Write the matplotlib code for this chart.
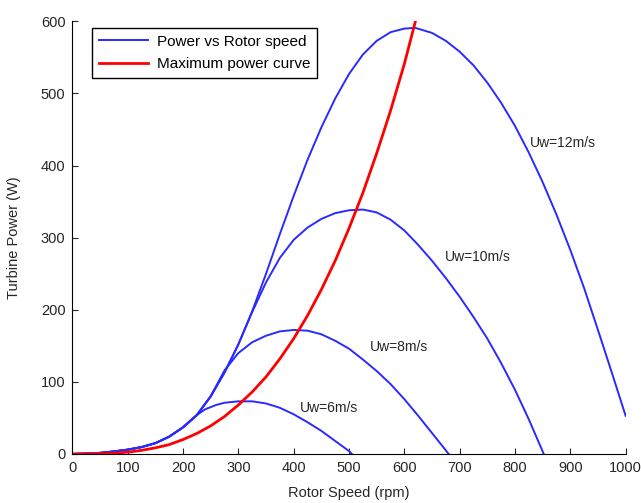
import matplotlib
matplotlib.use('Agg')
import matplotlib.pyplot as plt

plt.rcParams['font.family'] = ['Liberation Sans', 'DejaVu Sans']

# shared low-speed part of all four power curves (rpm, W)
shared_rpm = [0, 25, 50, 75, 100, 125, 150, 175, 200, 225]
shared_pw = [0, 0.5, 1.5, 3.5, 6, 9.5, 15, 24, 37, 54]

# each curve after it leaves the shared part
uw6_rpm = [240, 260, 275, 300, 325, 350, 375, 400, 425, 450, 475, 500, 505]
uw6_pw = [62, 68, 71, 73, 73, 70, 64, 55, 44, 32, 18, 4, 0]

uw8_rpm = [250, 275, 300, 325, 350, 375, 400, 425, 450, 475, 500, 525, 550,
           575, 600, 625, 650, 675, 680]
uw8_pw = [80, 116, 140, 155, 164, 170, 172, 171, 166, 157, 146, 131, 115,
          97, 76, 53, 29, 5, 0]

uw10_rpm = [250, 275, 300, 325, 350, 375, 400, 425, 450, 475, 500, 525, 550,
            575, 600, 625, 650, 675, 700, 725, 750, 775, 800, 825, 852]
uw10_pw = [80, 113, 152, 197, 238, 272, 297, 314, 326, 334, 338, 339, 335,
           325, 310, 290, 268, 244, 218, 190, 160, 126, 89, 48, 0]

uw12_rpm = [250, 275, 300, 325, 350, 375, 400, 425, 450, 475, 500, 525, 550,
            575, 600, 620, 650, 675, 700, 725, 750, 775, 800, 825, 850, 875,
            900, 925, 950, 975, 1000]
uw12_pw = [80, 113, 152, 198, 250, 305, 358, 408, 453, 493, 527, 554, 573,
           585, 590, 591, 584, 573, 558, 539, 515, 487, 455, 418, 377, 332,
           283, 230, 172, 113, 53]

# maximum power curve
mpp_rpm = [0, 25, 50, 75, 100, 125, 150, 175, 200, 225, 250, 275, 300, 325,
           350, 375, 400, 425, 450, 475, 500, 525, 550, 575, 600, 620]
mpp_pw = [0, 0, 0.3, 1, 2.5, 5, 8.5, 13, 20, 28.5, 39, 52, 68, 86, 107, 132,
          160, 192, 228, 268, 313, 362, 417, 476, 541, 600]

labels = ['Uw=6m/s', 'Uw=8m/s', 'Uw=10m/s', 'Uw=12m/s']
label_xy = [(411, 64), (538, 148), (674, 273), (827, 431)]

blue = '#2a2aff'
txt = '#262626'

fig = plt.figure(figsize=(6.41, 5.03), dpi=100)
ax = fig.add_axes([0.113, 0.0975, 0.863, 0.86])

curves = [(uw6_rpm, uw6_pw), (uw8_rpm, uw8_pw), (uw10_rpm, uw10_pw), (uw12_rpm, uw12_pw)]
for i, (r, p) in enumerate(curves):
    # join the shared part to the branch
    rr = [x for x in shared_rpm if x < r[0]] + r
    pp = [y for x, y in zip(shared_rpm, shared_pw) if x < r[0]] + p
    ax.plot(rr, pp, color=blue, lw=1.4,
            label='Power vs Rotor speed' if i == 0 else None)

ax.plot(mpp_rpm, mpp_pw, color='red', lw=2.0, label='Maximum power curve')

for lab, (x, y) in zip(labels, label_xy):
    ax.text(x, y, lab, fontsize=10, color=txt, va='center', ha='left')

ax.set_xlim(0, 1000)
ax.set_ylim(0, 600)
ax.set_xticks(range(0, 1001, 100))
ax.set_yticks(range(0, 601, 100))
ax.spines['top'].set_visible(False)
ax.spines['right'].set_visible(False)
ax.tick_params(direction='in', length=4, labelsize=10.5, colors=txt, pad=5)
ax.set_xlabel('Rotor Speed (rpm)', fontsize=10.5, color=txt, labelpad=8)
ax.set_ylabel('Turbine Power (W)', fontsize=10.5, color=txt, labelpad=14)

leg = ax.legend(loc='upper left', bbox_to_anchor=(0.035, 0.985), borderaxespad=0,
                fontsize=11, handlelength=3.2, handletextpad=0.6, labelspacing=0.55,
                borderpad=0.45, fancybox=False, framealpha=1)
leg.get_frame().set_edgecolor('black')
leg.get_frame().set_linewidth(1.0)

fig.savefig('out.png', dpi=100)
